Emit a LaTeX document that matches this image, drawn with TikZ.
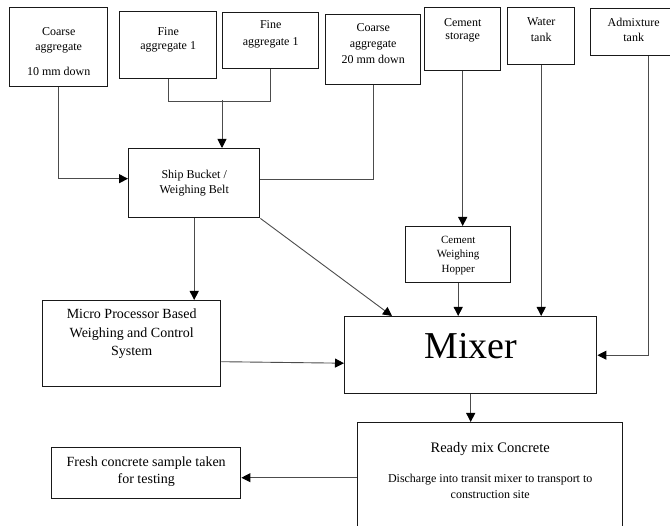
\documentclass[tikz,border=0pt]{standalone}
\usepackage{fontspec}
\setmainfont{Liberation Serif}
\usetikzlibrary{positioning}
\usetikzlibrary{arrows.meta}

\begin{document}
\begin{tikzpicture}[x=1pt, y=-1pt,
  box/.style={draw=black!90, rectangle, anchor=north west, line width=1.4pt, inner sep=0pt},
  txt/.style={inner sep=0pt, align=center, font=\fontsize{12}{15}\selectfont},
  link/.style={draw=black!70, line width=0.9pt},
  arr/.style={link, -{Triangle[length=9pt,width=9pt,color=black]}}]
\clip (0,0) rectangle (670,526);
\node[box, minimum width=98pt, minimum height=79pt](ca10) at (9,7){};
\node[txt, below=20pt of ca10.north](ca10t){Coarse\\aggregate\\[10pt]10 mm down};
\node[box, minimum width=97pt, minimum height=67pt](fine1) at (119,11){};
\node[txt, font=\fontsize{12}{14}\selectfont, below=16pt of fine1.north](fine1t){Fine\\aggregate 1};
\node[box, minimum width=96pt, minimum height=56pt](fine2) at (222,12){};
\node[txt, font=\fontsize{12}{17}\selectfont, below=8pt of fine2.north](fine2t){Fine\\aggregate 1};
\node[box, minimum width=95pt, minimum height=70pt](ca20) at (325,14){};
\node[txt, font=\fontsize{12}{16}\selectfont, below=9pt of ca20.north](ca20t){Coarse\\aggregate\\20 mm down};
\node[box, minimum width=76pt, minimum height=63pt](cement) at (424,7){};
\node[txt, font=\fontsize{12}{13.5}\selectfont, below=11pt of cement.north](cementt){Cement\\storage};
\node[box, minimum width=67pt, minimum height=57pt](water) at (507,7){};
\node[txt, font=\fontsize{12}{16}\selectfont, below=10pt of water.north](watert){Water\\tank};
\node[box, minimum width=86pt, minimum height=47pt](admix) at (590,8){};
\node[txt, below=10pt of admix.north](admixt){Admixture\\tank};
\node[box, minimum width=131pt, minimum height=69pt](ship) at (128,148){};
\node[txt, below=22pt of ship.north](shipt){Ship Bucket /\\Weighing Belt};
\node[box, minimum width=105pt, minimum height=56pt](hopper) at (405,226){};
\node[txt, font=\fontsize{11}{14.5}\selectfont, below=10pt of hopper.north](hoppert){Cement\\Weighing\\Hopper};
\node[box, minimum width=178pt, minimum height=86pt](micro) at (42,300){};
\node[txt, font=\fontsize{14}{18.5}\selectfont, below=9pt of micro.north](microt){Micro Processor Based\\Weighing and Control\\System};
\node[box, minimum width=252pt, minimum height=77pt](mixer) at (344,316){};
\node[txt, font=\fontsize{38}{40}\selectfont, below=17pt of mixer.north](mixert){Mixer};
\node[box, minimum width=265pt, minimum height=130pt](ready) at (357,422){};
\node[txt, font=\fontsize{14.5}{17}\selectfont, below=20pt of ready.north](readyt){Ready mix Concrete};
\node[txt, font=\fontsize{12}{16}\selectfont, below=18pt of readyt](readyd){Discharge into transit mixer to transport to\\construction site};
\node[box, minimum width=189pt, minimum height=51pt](fresh) at (51,447){};
\node[txt, font=\fontsize{14}{17}\selectfont, below=10pt of fresh.north](fresht){Fresh concrete sample taken\\for testing};
% aggregates into the bucket
\draw[arr](ca10.south) |- ([yshift=4.5pt]ship.west);
\draw[link](fine1.south) -- ++(0,22) -| (fine2.south);
\coordinate (join) at (222,100);
\draw[arr](join) -- (join |- ship.north);
\draw[link](ca20.south) |- ([yshift=3.5pt]ship.east);
\draw[arr](ship.south) -- (ship.south |- micro.north);
\draw[arr](ship.south east) -- ([xshift=48pt]mixer.north west);
\draw[arr]([yshift=-18pt]micro.east) -- ([yshift=-8pt]mixer.west);
% cement, water, admixture
\draw[arr](cement.south) -- (cement.south |- hopper.north);
\draw[arr](hopper.south) -- (hopper.south |- mixer.north);
\draw[arr](water.south) -- (water.south |- mixer.north);
\draw[arr]([xshift=15pt]admix.south) |- (mixer.east);
% output
\draw[arr](mixer.south) -- (mixer.south |- ready.north);
\draw[arr]([yshift=-4.5pt]fresh.east -| ready.west) -- ([yshift=-4.5pt]fresh.east);
\end{tikzpicture}
\end{document}
